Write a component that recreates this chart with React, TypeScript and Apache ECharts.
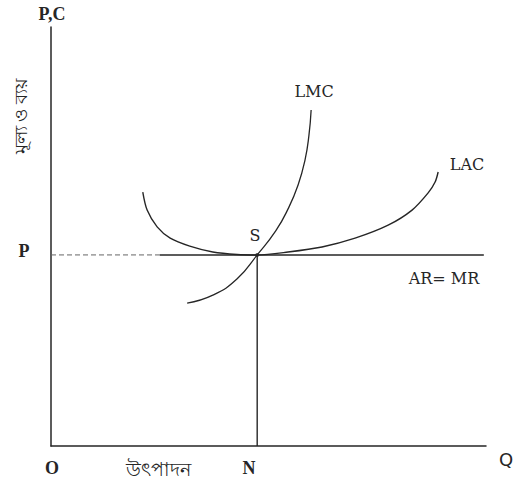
import React, { useEffect, useRef } from "react";
import * as echarts from "echarts";

// Curve data (x = output, y = price / cost)
const lacX = [21.1, 22.1, 24.4, 27.4, 31.9, 37.2, 42.8, 47.4, 54.5, 62.3, 69.9, 77.5, 83.0, 86.7, 88.3, 89.0];
const lacY = [60.6, 56.3, 52.3, 49.6, 47.7, 46.3, 45.7, 45.6, 46.3, 47.5, 49.6, 52.7, 56.3, 60.4, 63.0, 65.4];
const lmcX = [31.3, 37.2, 42.8, 47.4, 51.7, 54.5, 56.8, 58.4, 59.3, 59.8];
const lmcY = [34.1, 36.0, 39.9, 45.6, 51.4, 56.6, 62.3, 68.3, 74.2, 80.2];
const priceP = 45.6;
const outputN = 47.4;
const arFadeEnd = 25;
const arEnd = 99.5;

// Texts
const yAxisTitle = "P,C";
const yAxisName = "মূল্য ও ব্যয়";
const xAxisName = "উৎপাদন";
const xTitle = "Q";
const originLabel = "O";
const pLabel = "P";
const nLabel = "N";
const lmcLabel = "LMC";
const lacLabel = "LAC";
const sLabel = "S";
const arLabel = "AR= MR";

const INK = "#262626";
const SERIF = "'DejaVu Serif', 'Liberation Serif', serif";
const BOLDSERIF = "'Liberation Serif', serif";

export default function App() {
  const ref = useRef<HTMLDivElement>(null);
  useEffect(() => {
    document.body.style.margin = "0";
    if (!ref.current) return;
    const chart = echarts.init(ref.current, undefined, { renderer: "svg" });
    const pairs = (xs: number[], ys: number[]) => xs.map((x, i) => [x, ys[i]]);
    const txt = (text: string, x: number, y: number, extra: any = {}) => ({
      type: "text",
      x,
      y,
      style: {
        text,
        fill: INK,
        font: `16px ${SERIF}`,
        align: "center",
        verticalAlign: "middle",
        ...extra,
      },
    });
    chart.setOption({
      animation: false,
      backgroundColor: "#ffffff",
      grid: { left: 51, top: 27, width: 435, height: 419 },
      xAxis: {
        type: "value",
        min: 0,
        max: 100,
        axisLine: { show: true, lineStyle: { color: INK, width: 1.5 } },
        axisTick: { show: false },
        axisLabel: { show: false },
        splitLine: { show: false },
      },
      yAxis: {
        type: "value",
        min: 0,
        max: 100,
        axisLine: { show: true, lineStyle: { color: INK, width: 1.5 } },
        axisTick: { show: false },
        axisLabel: { show: false },
        splitLine: { show: false },
      },
      series: [
        {
          type: "line",
          name: "LAC",
          data: pairs(lacX, lacY),
          smooth: 0.3,
          showSymbol: false,
          lineStyle: { color: INK, width: 1.4 },
        },
        {
          type: "line",
          name: "LMC",
          data: pairs(lmcX, lmcY),
          smooth: 0.5,
          showSymbol: false,
          lineStyle: { color: INK, width: 1.3 },
        },
        {
          type: "line",
          name: "AR faint",
          data: [[0, priceP], [arFadeEnd, priceP]],
          showSymbol: false,
          lineStyle: { color: "#666", width: 1, type: [5, 3] },
        },
        {
          type: "line",
          name: "AR=MR",
          data: [[arFadeEnd, priceP], [arEnd, priceP]],
          showSymbol: false,
          lineStyle: { color: INK, width: 1.4 },
        },
        {
          type: "line",
          name: "N",
          data: [[outputN, 0], [outputN, priceP]],
          showSymbol: false,
          lineStyle: { color: INK, width: 1.4 },
        },
        {
          type: "scatter",
          name: "S",
          data: [[outputN, priceP]],
          symbolSize: 4,
          itemStyle: { color: INK },
        },
      ],
      graphic: [
        txt(yAxisTitle, 52, 14, { font: `bold 18px ${BOLDSERIF}` }),
        {
          type: "text",
          x: 20,
          y: 116,
          rotation: Math.PI / 2,
          style: {
            text: yAxisName,
            fill: INK,
            font: "18px 'Noto Sans', sans-serif",
            align: "center",
            verticalAlign: "middle",
          },
        },
        txt(pLabel, 24, 251, { font: `bold 18px ${BOLDSERIF}` }),
        txt(originLabel, 52, 468, { font: `bold 18px ${BOLDSERIF}` }),
        txt(nLabel, 249, 468, { font: `bold 18px ${BOLDSERIF}` }),
        txt(xAxisName, 158, 469, { font: "19px 'Noto Sans', sans-serif" }),
        txt(xTitle, 499, 459, { align: "left", font: "18px 'DejaVu Sans', sans-serif" }),
        txt(lmcLabel, 314, 91),
        txt(lacLabel, 467, 164),
        txt(sLabel, 255, 235),
        txt(arLabel, 444, 278),
      ],
    });
    return () => chart.dispose();
  }, []);
  return (
    <div
      ref={ref}
      style={{ position: "absolute", left: 0, top: 0, width: 514, height: 484 }}
    />
  );
}
